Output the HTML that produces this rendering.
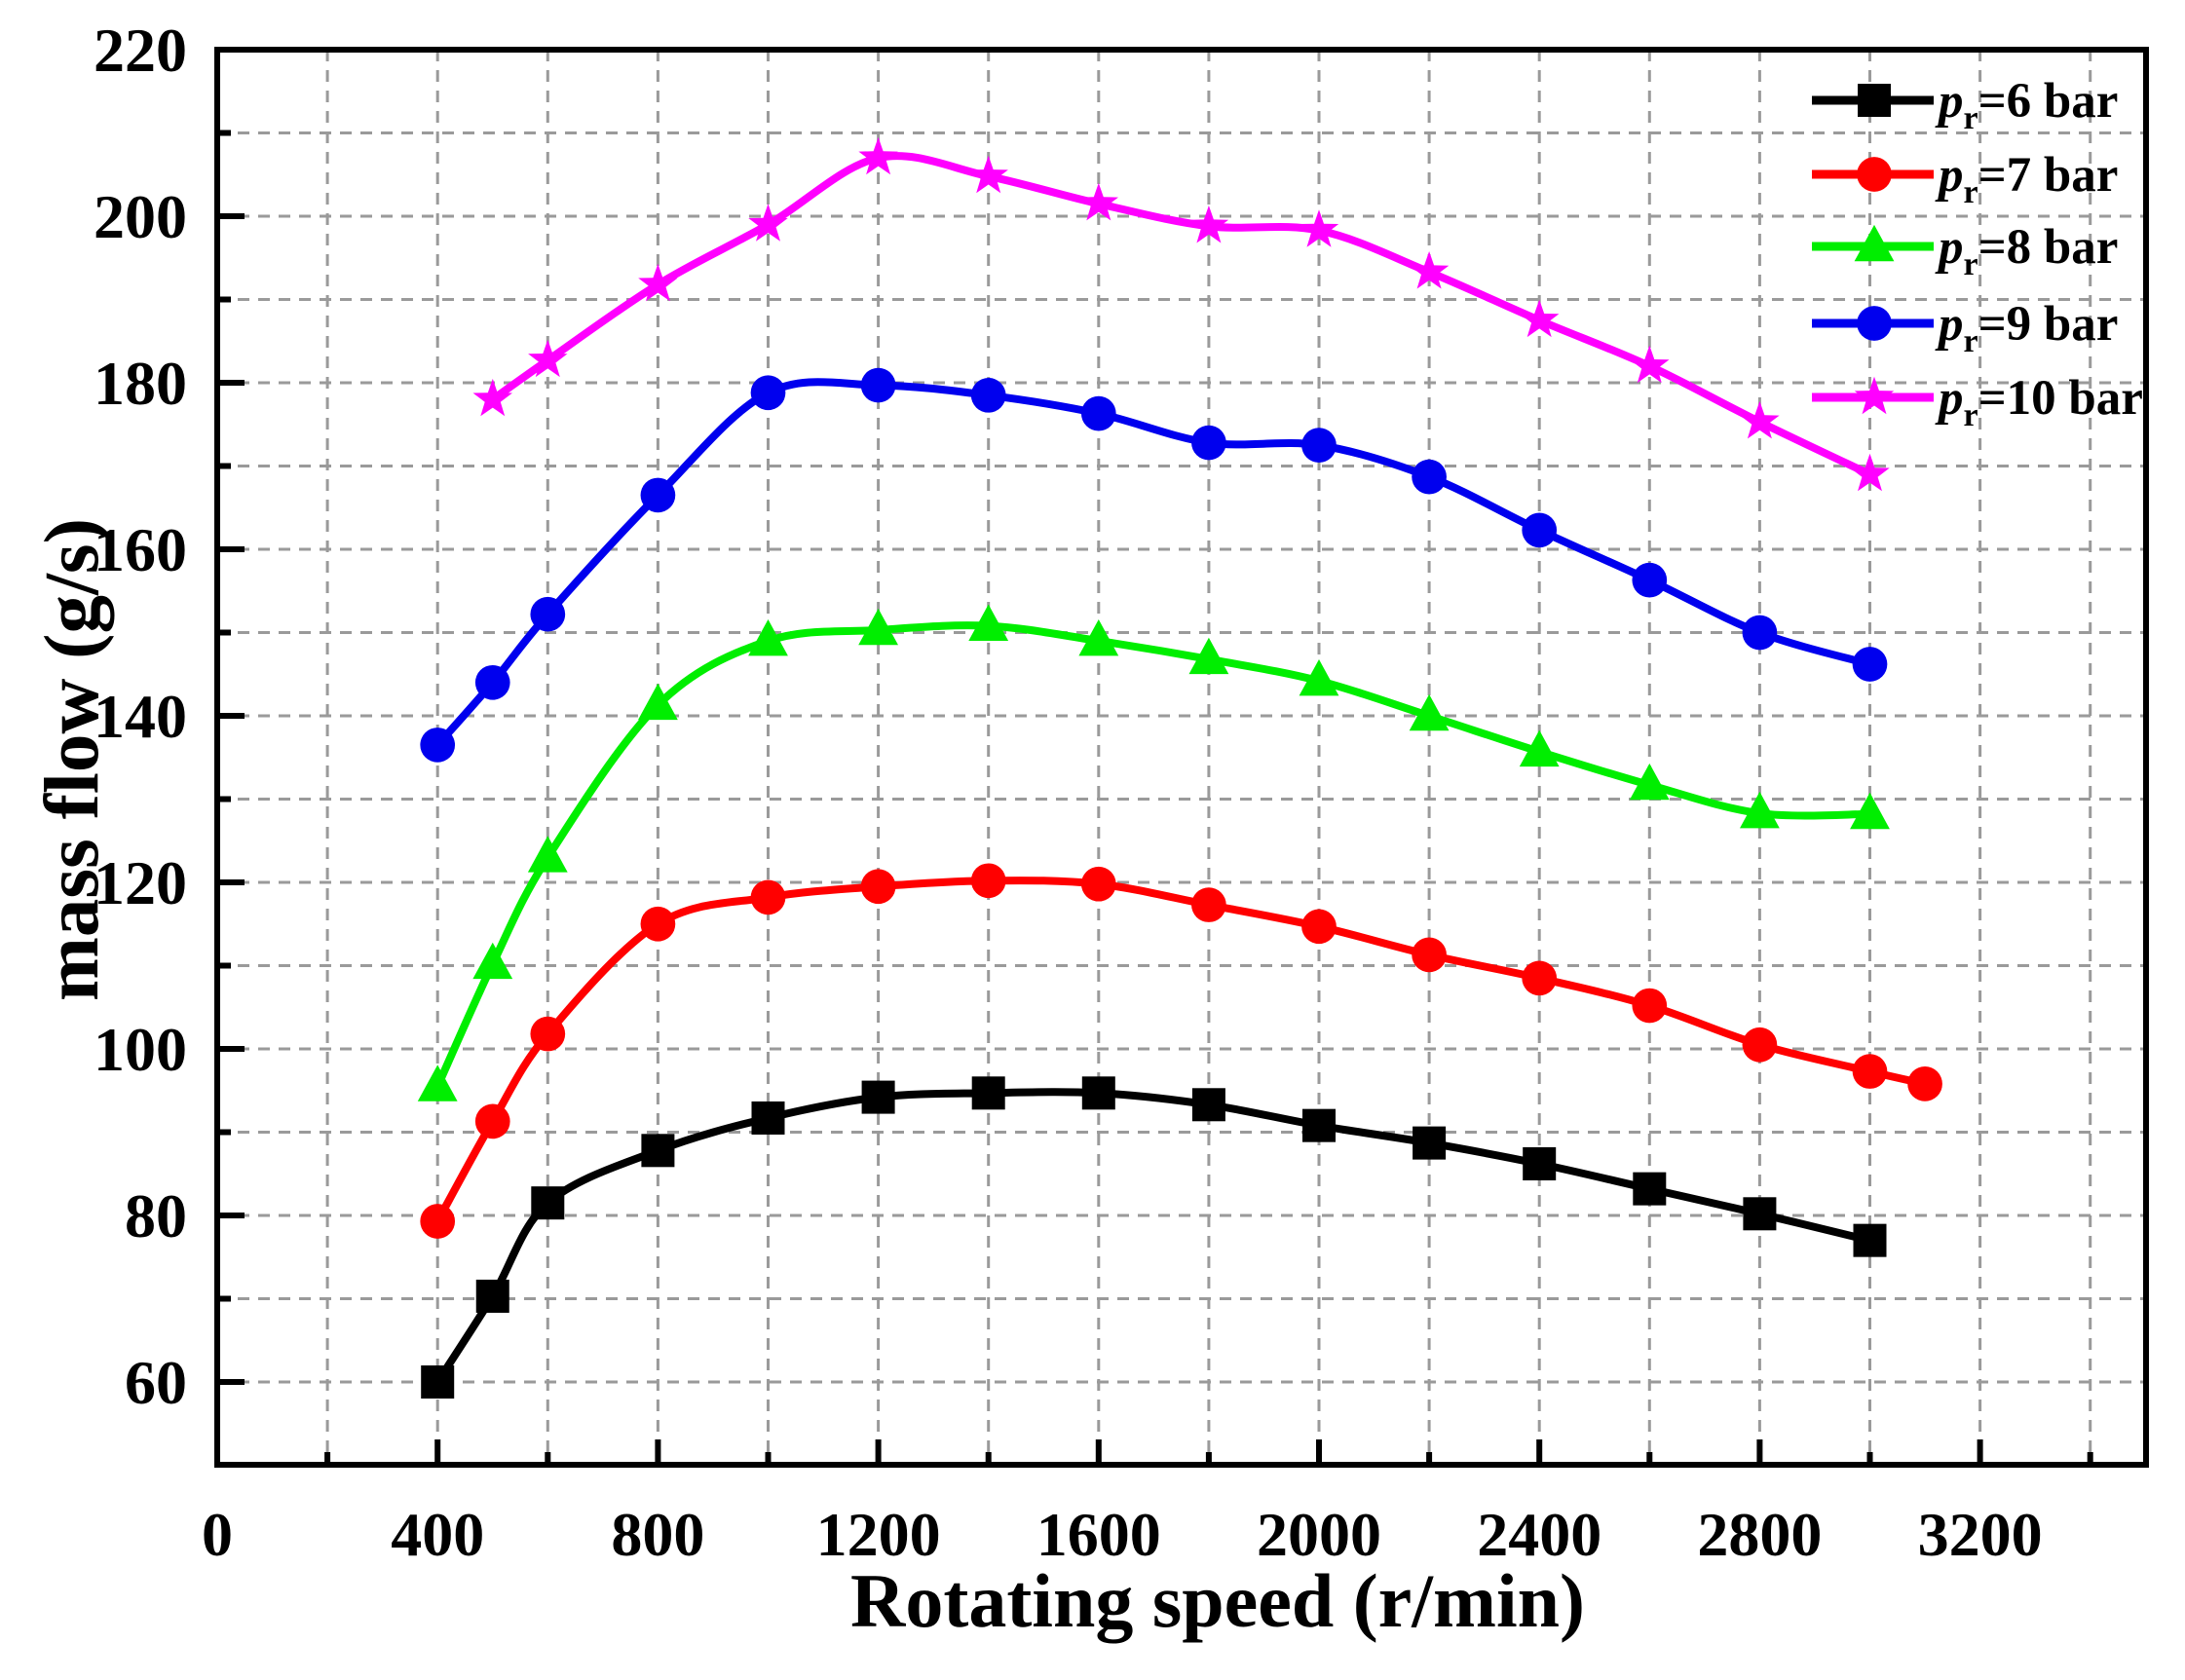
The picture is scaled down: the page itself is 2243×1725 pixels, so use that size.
<!DOCTYPE html>
<html><head><meta charset="utf-8"><style>
html,body{margin:0;padding:0;background:#fff;}
svg{display:block;}
text{font-family:"Liberation Serif",serif;font-weight:bold;fill:#000;}
</style></head><body>
<svg id="s" width="2243" height="1725" xmlns="http://www.w3.org/2000/svg">
<rect width="2243" height="1725" fill="#fff"/>
<g id="grid"></g>
<g id="series"></g>
<g id="axes"></g>
<g id="legend"></g>
<text x="1250" y="1670" font-size="78" text-anchor="middle">Rotating speed (r/min)</text>
<text transform="translate(100,780) rotate(-90)" font-size="79" text-anchor="middle">mass flow (g/s)</text>
</svg>
<script>
const NS="http://www.w3.org/2000/svg";
const X=v=>223+v*0.5655, Y=v=>222+(200-v)*8.55;
const L=223,R=2203,T=51,B=1504;
function el(p,t,a,txt){const e=document.createElementNS(NS,t);for(const k in a)e.setAttribute(k,a[k]);if(txt!=null)e.textContent=txt;document.getElementById(p).appendChild(e);return e;}
for(let v=200;v<3500;v+=200) el('grid','line',{x1:X(v),x2:X(v),y1:T,y2:B,stroke:'#9a9a9a','stroke-width':3,'stroke-dasharray':'12 9'});
for(let v=60;v<220;v+=10) el('grid','line',{x1:L,x2:R,y1:Y(v),y2:Y(v),stroke:'#9a9a9a','stroke-width':3,'stroke-dasharray':'12 9'});
el('axes','rect',{x:L,y:T,width:R-L,height:B-T,fill:'none',stroke:'#000','stroke-width':6});
for(let v=0;v<=3400;v+=200){const maj=v%400==0;el('axes','line',{x1:X(v),x2:X(v),y1:B,y2:B-(maj?26:13),stroke:'#000','stroke-width':6});
 if(maj) el('axes','text',{x:X(v),y:1597,'font-size':64,'text-anchor':'middle'},String(v));}
for(let v=60;v<=210;v+=10){const maj=v%20==0;el('axes','line',{x1:L,x2:L+(maj?28:14),y1:Y(v),y2:Y(v),stroke:'#000','stroke-width':6});}
for(let v=60;v<=220;v+=20) el('axes','text',{x:192,y:Y(v)+22,'font-size':64,'text-anchor':'end'},String(v));
const xs=[400,500,600,800,1000,1200,1400,1600,1800,2000,2200,2400,2600,2800,3000];
const S=[
 {c:'#000',m:'sq',x:xs,y:[60,70.3,81.5,87.8,91.7,94.2,94.7,94.7,93.3,90.8,88.7,86.2,83.2,80.2,77]},
 {c:'#ff0000',m:'ci',x:xs.concat([3100]),y:[79.3,91.3,101.8,115,118.2,119.5,120.2,119.8,117.3,114.7,111.3,108.5,105.2,100.5,97.3,95.8]},
 {c:'#00ee00',m:'tr',x:xs,y:[95.5,110.2,123,141.3,149,150.3,150.8,149,146.8,144.2,140,135.7,131.7,128.3,128.2]},
 {c:'#0000ee',m:'ci',x:xs,y:[136.5,144,152.2,166.5,178.8,179.7,178.5,176.3,172.8,172.5,168.7,162.3,156.3,150,146.2]},
 {c:'#ff00ff',m:'st',x:xs.slice(1),y:[178,182.7,191.8,199,207,204.8,201.5,198.8,198.3,193.3,187.5,182,175.3,169]}
];
function marker(g,m,x,y,c,s){
 if(m=='sq') el(g,'rect',{x:x-s,y:y-s,width:2*s,height:2*s,fill:c});
 else if(m=='ci') el(g,'circle',{cx:x,cy:y,r:s*1.05,fill:c});
 else if(m=='tr') el(g,'polygon',{points:`${x},${y-s*1.3} ${x+s*1.2},${y+s*0.9} ${x-s*1.2},${y+s*0.9}`,fill:c});
 else { let p=[];for(let i=0;i<10;i++){const r=i%2?s*0.5:s*1.25,a=-Math.PI/2+i*Math.PI/5;p.push((x+r*Math.cos(a)).toFixed(1)+','+(y+r*Math.sin(a)).toFixed(1));}
  el(g,'polygon',{points:p.join(' '),fill:c});}
}
for(const s of S){
 const P=s.x.map((v,i)=>[X(v),Y(s.y[i])]);
 let d='M'+P[0][0]+','+P[0][1];
 for(let i=0;i<P.length-1;i++){const p0=P[i-1]||P[i],p1=P[i],p2=P[i+1],p3=P[i+2]||P[i+1];
  const c1=[p1[0]+(p2[0]-p0[0])/6,p1[1]+(p2[1]-p0[1])/6],c2=[p2[0]-(p3[0]-p1[0])/6,p2[1]-(p3[1]-p1[1])/6];
  d+=` C${c1[0]},${c1[1]} ${c2[0]},${c2[1]} ${p2[0]},${p2[1]}`;}
 el('series','path',{d:d,fill:'none',stroke:s.c,'stroke-width':8,'stroke-linejoin':'round'});
 for(const p of P) marker('series',s.m,p[0],p[1],s.c,17);
}
const ly=[103,179,253,332,408],lab=['6','7','8','9','10'];
S.forEach((s,i)=>{
 el('legend','line',{x1:1860,x2:1985,y1:ly[i],y2:ly[i],stroke:s.c,'stroke-width':9});
 marker('legend',s.m,1924,ly[i],s.c,17);
 const t=el('legend','text',{x:1990,y:ly[i]+17,'font-size':51});
 const a=document.createElementNS(NS,'tspan');a.setAttribute('font-style','italic');a.textContent='p';t.appendChild(a);
 const b=document.createElementNS(NS,'tspan');b.setAttribute('font-size','34');b.setAttribute('dy','12');b.textContent='r';t.appendChild(b);
 const c=document.createElementNS(NS,'tspan');c.setAttribute('dy','-12');c.textContent='='+lab[i]+' bar';t.appendChild(c);
});
</script>
</body></html>
